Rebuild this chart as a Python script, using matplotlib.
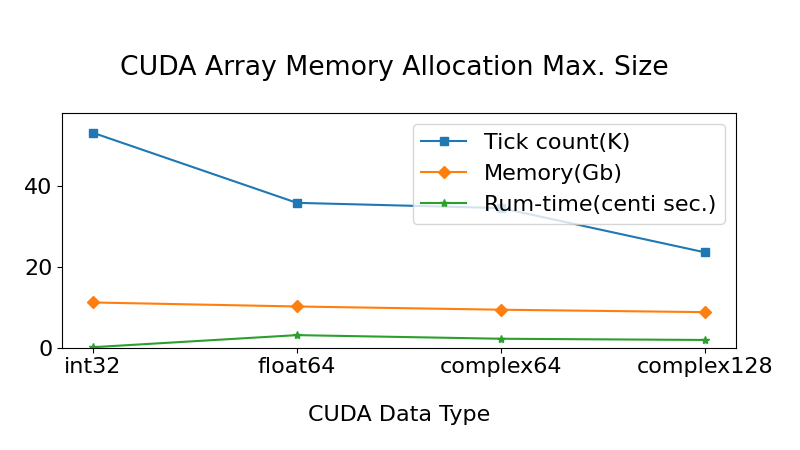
import matplotlib
matplotlib.use('Agg')
import matplotlib.pyplot as plt

# Data
data_types = ['int32', 'float64', 'complex64', 'complex128']
tick_count = [53.3, 35.9, 34.6, 23.6]
memory_gb = [11.2, 10.2, 9.4, 8.8]
run_time = [0.1, 3.1, 2.2, 1.9]

plt.rcParams.update({
    'font.size': 16,
    'xtick.labelsize': 16,
    'ytick.labelsize': 16,
    'legend.fontsize': 16,
})

fig, ax = plt.subplots(figsize=(8, 4.5), dpi=100)
fig.subplots_adjust(left=0.0775, right=0.92, bottom=0.2275, top=0.75)

ax.plot(data_types, tick_count, marker='s', label='Tick count(K)')
ax.plot(data_types, memory_gb, marker='D', label='Memory(Gb)')
ax.plot(data_types, run_time, marker='*', label='Rum-time(centi sec.)')

ax.set_ylim(0, 58.3)
ax.set_xlabel('CUDA Data Type', labelpad=20)
fig.text(394 / 800, 1 - 75 / 450, 'CUDA Array Memory Allocation Max. Size',
         ha='center', va='baseline', fontsize=19.2)
ax.legend(loc='upper right')

plt.savefig('out.png', dpi=100)
plt.close()
